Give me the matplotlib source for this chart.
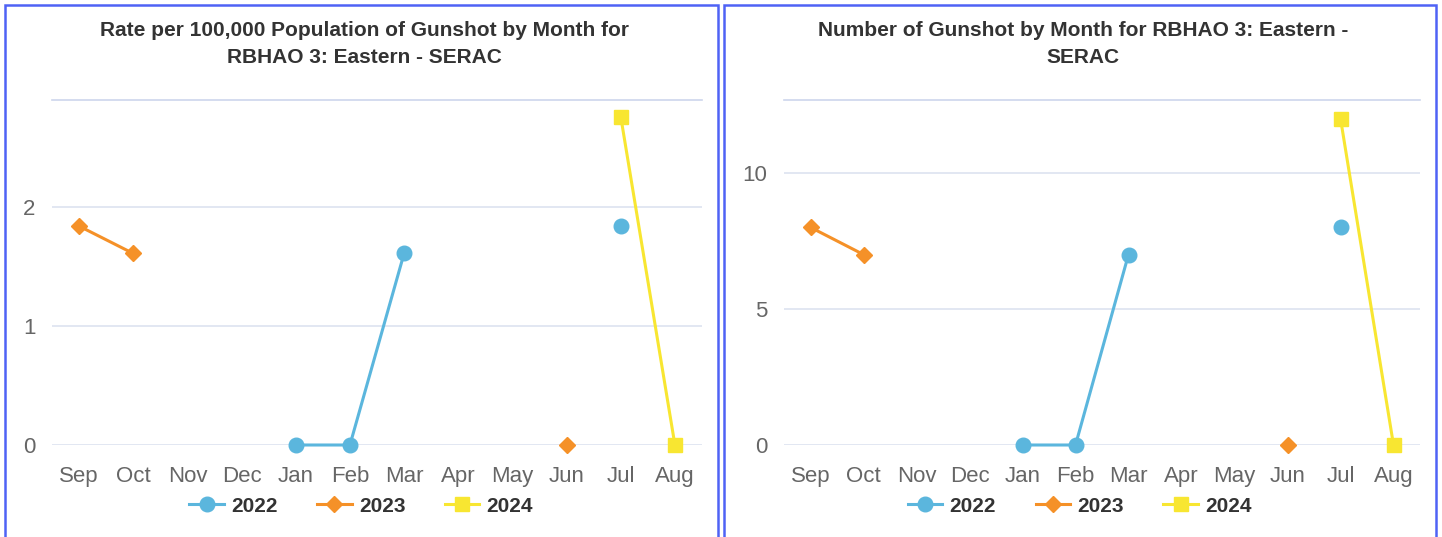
import numpy as np
import matplotlib.pyplot as plt
from matplotlib.patches import Rectangle
from matplotlib.lines import Line2D

plt.rcParams['font.family'] = ['Liberation Sans', 'DejaVu Sans']

months = ['Sep', 'Oct', 'Nov', 'Dec', 'Jan', 'Feb', 'Mar', 'Apr', 'May', 'Jun', 'Jul', 'Aug']
nan = np.nan

# rate per 100,000 population
rate_2022 = [nan, nan, nan, nan, 0, 0, 1.61, nan, nan, nan, 1.84, nan]
rate_2023 = [1.84, 1.61, nan, nan, nan, nan, nan, nan, nan, 0, nan, nan]
rate_2024 = [nan, nan, nan, nan, nan, nan, nan, nan, nan, nan, 2.76, 0]

# counts
count_2022 = [nan, nan, nan, nan, 0, 0, 7, nan, nan, nan, 8, nan]
count_2023 = [8, 7, nan, nan, nan, nan, nan, nan, nan, 0, nan, nan]
count_2024 = [nan, nan, nan, nan, nan, nan, nan, nan, nan, nan, 12, 0]

years = ['2022', '2023', '2024']
colors = ['#5bb6dd', '#f59128', '#f8e631']
markers = ['o', 'D', 's']
msizes = [10.5, 8, 10.5]

W, H = 1442, 537
fig = plt.figure(figsize=(W / 100, H / 100), dpi=100)


def fx(px):
    return px / W


def fy(py):
    return 1 - py / H


grid_col = '#dde3f0'
border_col = '#4f62f5'

panels = [
    dict(left=52, right=702, box=(4.5, 718), yticks=[0, 1, 2], ymax=2.9,
         series=[rate_2022, rate_2023, rate_2024],
         title=['Rate per 100,000 Population of Gunshot by Month for',
                'RBHAO 3: Eastern - SERAC']),
    dict(left=784, right=1420, box=(723.5, 1436), yticks=[0, 5, 10], ymax=12.68,
         series=[count_2022, count_2023, count_2024],
         title=['Number of Gunshot by Month for RBHAO 3: Eastern -',
                'SERAC']),
]

for p in panels:
    # panel border
    bx0, bx1 = p['box']
    fig.patches.append(Rectangle((fx(bx0), fy(H + 10)), fx(bx1 - bx0), (H + 10 - 5) / H,
                                 transform=fig.transFigure, fill=False,
                                 edgecolor=border_col, linewidth=1.8))

    ax = fig.add_axes([fx(p['left']), fy(445), fx(p['right'] - p['left']), (445 - 100) / H])
    x = np.arange(len(months))
    for vals, c, m, ms in zip(p['series'], colors, markers, msizes):
        ax.plot(x, vals, color=c, marker=m, markersize=ms, linewidth=2.2,
                clip_on=False, zorder=3)

    ax.set_xlim(-0.5, len(months) - 0.5)
    ax.set_ylim(0, p['ymax'])
    ax.set_xticks(x)
    ax.set_xticklabels(months)
    ax.set_yticks(p['yticks'])
    ax.tick_params(axis='both', length=0, labelsize=16, colors='#666666')
    ax.tick_params(axis='x', pad=15)
    ax.tick_params(axis='y', pad=12)
    ax.grid(axis='y', color=grid_col, linewidth=1.2)
    for s in ['left', 'right', 'bottom']:
        ax.spines[s].set_visible(False)
    ax.spines['top'].set_color('#cdd6ec')
    ax.spines['top'].set_linewidth(1.2)
    ax.set_axisbelow(True)

    cx = (bx0 + bx1) / 2 + 3
    fig.text(fx(cx), fy(31), p['title'][0], ha='center', va='center',
             fontsize=15, fontweight='bold', color='#333333')
    fig.text(fx(cx), fy(57), p['title'][1], ha='center', va='center',
             fontsize=15, fontweight='bold', color='#333333')

    handles = [Line2D([], [], color=c, marker=m, markersize=ms, linewidth=2.2)
               for c, m, ms in zip(colors, markers, msizes)]
    leg = fig.legend(handles, years, loc='center', bbox_to_anchor=(fx((bx0 + bx1) / 2), fy(506)),
                     ncol=3, frameon=False, handlelength=1.65, handletextpad=0.35,
                     columnspacing=1.9, prop={'size': 15, 'weight': 'bold'})
    for t in leg.get_texts():
        t.set_color('#333333')

fig.savefig('out.png', dpi=100)
